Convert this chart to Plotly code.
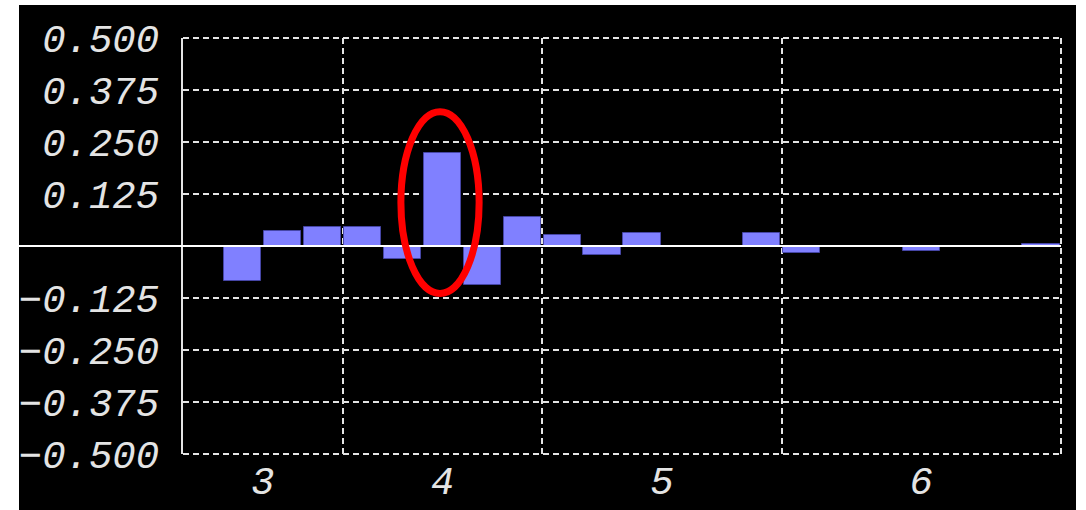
import plotly.graph_objects as go

# Bar groups: one list of values per category
categories = ["3", "4", "5", "6"]
values_3 = [0.0, -0.084, 0.036, 0.046]
values_4 = [0.046, -0.031, 0.224, -0.094, 0.070]
values_5 = [0.026, -0.022, 0.031, 0.0, 0.0, 0.031]
values_6 = [-0.017, 0.0, 0.0, -0.012, 0.0, 0.0, 0.006]
groups = [values_3, values_4, values_5, values_6]

y_ticks = [-0.5, -0.375, -0.25, -0.125, 0.0, 0.125, 0.25, 0.375, 0.5]
y_tick_labels = ["\u22120.500", "\u22120.375", "\u22120.250", "\u22120.125", "",
                 "0.125", "0.250", "0.375", "0.500"]

# Flatten groups into consecutive slots
slot_x, slot_y = [], []
boundaries, centers = [], []
pos = 0
for vals in groups:
    start = pos
    for v in vals:
        slot_x.append(pos)
        slot_y.append(v)
        pos += 1
    centers.append((start + pos - 1) / 2)
    boundaries.append(pos - 0.5)

FG = "#e4e4e4"
DASH = "6px,4px"
tick_font = dict(family="Liberation Mono", size=39, color=FG, style="italic")

fig = go.Figure()
fig.add_trace(go.Bar(
    x=slot_x, y=slot_y, width=0.93,
    marker=dict(color="#8080ff", line=dict(color="#4646a6", width=1)),
    showlegend=False, hoverinfo="skip",
))

# Frame geometry in pixels (plot area 183..1061 x 38..454 inside 1086x510)
W, H = 1086, 510
ml, mr, mt, mb = 183, 25, 38, 56
pw, ph = W - ml - mr, H - mt - mb

def px_x(p):
    return (p - ml) / pw

def px_y(p):
    return (H - mb - p) / ph

# Black panel on a white page
fig.add_shape(type="rect", xref="paper", yref="paper", layer="below",
              x0=px_x(19), x1=px_x(1076), y0=px_y(510), y1=px_y(5),
              fillcolor="black", line=dict(width=0))

# Dashed frame on the top, bottom and right edges of the plot area
for x0, y0, x1, y1 in [(0, 1, 1, 1), (0, 0, 1, 0), (1, 0, 1, 1)]:
    fig.add_shape(type="line", xref="paper", yref="paper", layer="below",
                  x0=x0, y0=y0, x1=x1, y1=y1,
                  line=dict(color=FG, width=2, dash=DASH))

# Zero line drawn over the bars
fig.add_shape(type="line", xref="paper", yref="y", layer="above",
              x0=px_x(19), x1=1, y0=0, y1=0,
              line=dict(color="white", width=2))

# Highlight ellipse around the largest bar
peak = max(range(len(slot_y)), key=lambda i: slot_y[i])
fig.add_shape(type="circle", xref="x", yref="y", layer="above",
              x0=slot_x[peak] - 1.04, x1=slot_x[peak] + 0.92,
              y0=-0.114, y1=0.323,
              line=dict(color="#ff0000", width=7))

fig.update_layout(
    width=W, height=H,
    margin=dict(l=ml, r=mr, t=mt, b=mb, pad=0, autoexpand=False),
    paper_bgcolor="white", plot_bgcolor="black",
    bargap=0,
    xaxis=dict(
        range=[-0.5, pos - 0.5], tickmode="array", automargin=False,
        tickvals=centers, ticktext=categories,
        showgrid=False, zeroline=False, showline=False, ticks="",
        tickfont=tick_font, ticklabelstandoff=0,
        minor=dict(tickmode="array", tickvals=boundaries[:-1], showgrid=True,
                   gridcolor=FG, griddash=DASH, gridwidth=2, ticks=""),
    ),
    yaxis=dict(
        range=[-0.5, 0.5], tickmode="array", automargin=False,
        tickvals=y_ticks, ticktext=y_tick_labels,
        showgrid=True, gridcolor=FG, griddash=DASH, gridwidth=2,
        zeroline=False, showline=True, linecolor=FG, linewidth=2,
        ticks="", tickfont=tick_font, ticklabelstandoff=14,
    ),
)

fig.write_html("out.html")
